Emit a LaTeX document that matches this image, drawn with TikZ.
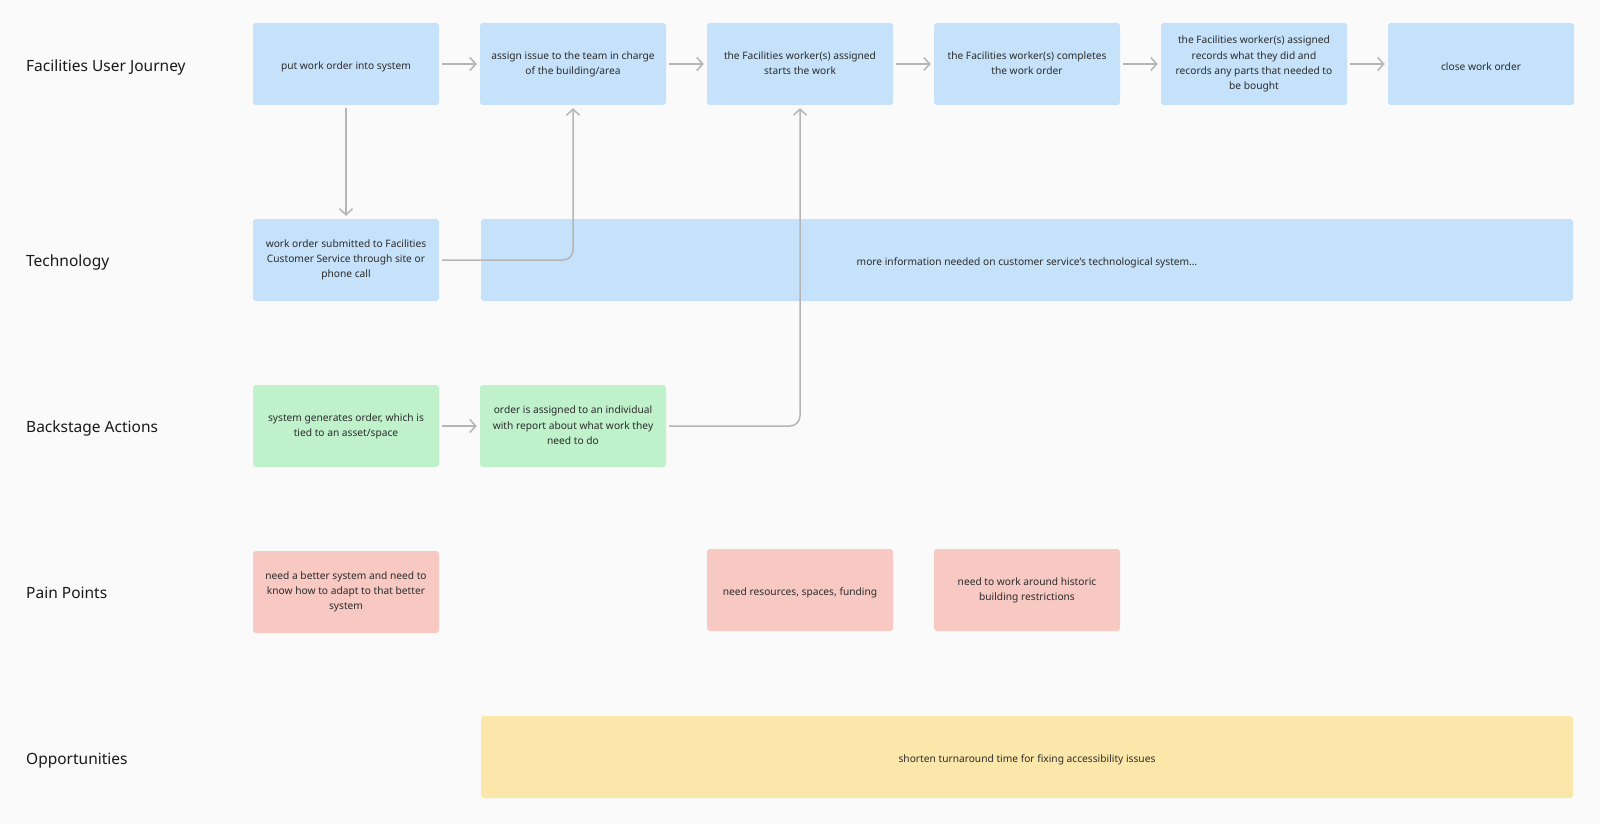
\documentclass[tikz,border=0pt]{standalone}
\usepackage{fontspec}
\setmainfont{Noto Sans}
\usetikzlibrary{arrows.meta}
\definecolor{bg}{HTML}{FAFAFA}
\definecolor{jblue}{HTML}{C5E2FA}
\definecolor{jgreen}{HTML}{BFF1CB}
\definecolor{jred}{HTML}{F7C9C2}
\definecolor{jyellow}{HTML}{FCE7AA}
\definecolor{conngray}{HTML}{B5B5B5}
\definecolor{ink}{HTML}{2B2B2B}
\newcommand{\cardstrut}{\rule[-1.4pt]{0pt}{15.8pt}}
\begin{document}
\begin{tikzpicture}[x=1pt,y=-1pt,
  lane/.style={anchor=base west,inner sep=0pt,font=\fontsize{15.5}{18}\selectfont,text=black!90},
  card/.style={rounded corners=3pt,minimum width=186pt,minimum height=82pt,align=center,inner sep=0pt,font=\fontsize{10.2}{15.3}\selectfont,text=ink,execute at begin node=\cardstrut,execute at end node=\cardstrut},
  conn/.style={draw=conngray,line width=1.5pt,-{Straight Barb[length=6pt,width=13pt]},shorten <=3pt,shorten >=3pt}]
\fill[bg] (0,0) rectangle (1600,824);
\node[lane] (journey) at (26,72) {Facilities User Journey};
\node[lane] (tech) at (26,266) {Technology};
\node[lane] (backstage) at (26,432) {Backstage Actions};
\node[lane] (pain) at (26,598) {Pain Points};
\node[lane] (opps) at (26,764) {Opportunities};
\node[card,fill=jblue] (put) at (346,64) {put work order into system};
\node[card,fill=jblue] (assign) at (573,64) {assign issue to the team in charge\\of the building/area};
\node[card,fill=jblue] (starts) at (800,64) {the Facilities worker(s) assigned\\starts the work};
\node[card,fill=jblue] (completes) at (1027,64) {the Facilities worker(s) completes\\the work order};
\node[card,fill=jblue] (records) at (1254,64) {the Facilities worker(s) assigned\\records what they did and\\records any parts that needed to\\be bought};
\node[card,fill=jblue] (close) at (1481,64) {close work order};
\node[card,fill=jblue] (submitted) at (346,260) {work order submitted to Facilities\\Customer Service through site or\\phone call};
\node[card,fill=jblue,minimum width=1092pt] (moreinfo) at (1027,260) {more information needed on customer service’s technological system…};
\node[card,fill=jgreen] (generates) at (346,426) {system generates order, which is\\tied to an asset/space};
\node[card,fill=jgreen] (individual) at (573,426) {order is assigned to an individual\\with report about what work they\\need to do};
\node[card,fill=jred] (better) at (346,592) {need a better system and need to\\know how to adapt to that better\\system};
\node[card,fill=jred] (resources) at (800,590) {need resources, spaces, funding};
\node[card,fill=jred] (historic) at (1027,590) {need to work around historic\\building restrictions};
\node[card,fill=jyellow,minimum width=1092pt] (shorten) at (1027,757) {shorten turnaround time for fixing accessibility issues};
\foreach \a/\b in {put/assign,assign/starts,starts/completes,completes/records,records/close}
\draw[conn] (\a) -- (\b);
\draw[conn] (put) -- (submitted);
\draw[conn] (generates) -- (individual);
\draw[conn,rounded corners=10pt] (submitted.east) -| (assign.south);
\draw[conn,rounded corners=10pt] (individual.east) -| (starts.south);
\end{tikzpicture}
\end{document}
